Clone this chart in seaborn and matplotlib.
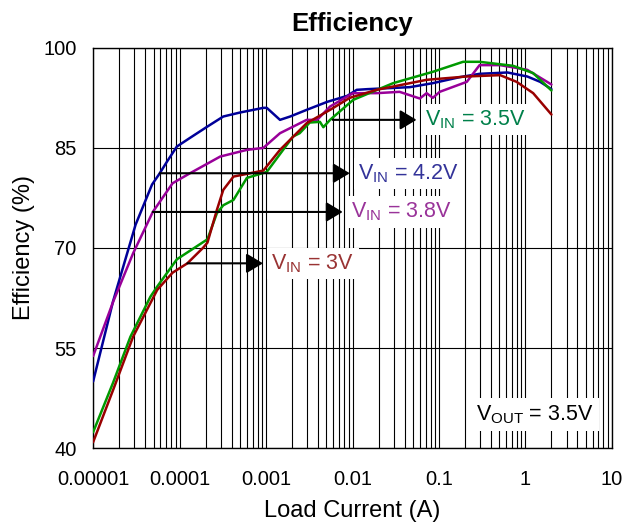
import numpy as np
import pandas as pd
import matplotlib
matplotlib.use("Agg")
import matplotlib.pyplot as plt
import seaborn as sns

# Values (load current in A, efficiency in %)
cur_42 = [1e-5, 1.7e-5, 3.1e-5, 4.8e-5, 5.9e-5, 7.2e-5, 9.3e-5, 1.32e-4, 2.1e-4, 3.2e-4,
          5.0e-4, 9.3e-4, 1.02e-3, 1.45e-3, 1.9e-3, 2.95e-3, 5.1e-3, 8.7e-3, 0.0112, 0.0148,
          0.046, 0.085, 0.174, 0.295, 0.62, 1.05, 1.48, 2.0]
eff_42 = [50, 62, 73.5, 79.5, 81.2, 83, 85.2, 86.5, 88.2, 89.7,
          90.3, 91, 91, 89.2, 89.7, 90.7, 91.9, 92.8, 93.7, 93.8,
          94.1, 94.7, 95.6, 96.1, 96.3, 95.7, 94.9, 93.8]

cur_38 = [1e-5, 1.7e-5, 2.9e-5, 4.9e-5, 8.3e-5, 1.32e-4, 2.95e-4, 6.0e-4, 9.3e-4, 1.45e-3,
          2.95e-3, 3.9e-3, 5.5e-3, 8.7e-3, 0.0102, 0.019, 0.035, 0.06, 0.072, 0.085,
          0.102, 0.21, 0.295, 0.51, 1.05, 2.0]
eff_38 = [53.8, 61.9, 69.2, 75.4, 79.7, 81.2, 83.7, 84.7, 85, 87.2,
          89.2, 89.2, 91.2, 92.7, 93.2, 93.2, 93.4, 92.4, 93.2, 92.5,
          93.4, 94.9, 97.4, 97.4, 96.7, 94.5]

cur_35 = [1e-5, 1.7e-5, 2.7e-5, 4.6e-5, 5.5e-5, 9.3e-5, 2.1e-4, 2.7e-4, 3.2e-4, 4.2e-4,
          6.0e-4, 1.02e-3, 2.05e-3, 2.45e-3, 3.2e-3, 4.2e-3, 4.6e-3, 5.5e-3, 0.0102, 0.0295,
          0.085, 0.19, 0.295, 0.72, 1.23, 2.0]
eff_35 = [42.4, 49.8, 56.7, 62.7, 64.2, 68.3, 71.3, 75.2, 76.4, 77.2,
          80.5, 81.4, 86.7, 87.2, 88.8, 88.9, 88.1, 89.2, 92.2, 94.7,
          96.4, 97.9, 97.9, 97.3, 96.2, 93.6]

cur_30 = [1e-5, 1.7e-5, 2.9e-5, 5.5e-5, 8.3e-5, 1.23e-4, 1.86e-4, 2.1e-4, 2.7e-4, 3.2e-4,
          4.2e-4, 9.3e-4, 1.45e-3, 2.95e-3, 5.5e-3, 9.3e-3, 0.019, 0.072, 0.21, 0.51,
          0.79, 1.23, 2.0]
eff_30 = [40.9, 48.7, 56.7, 63.7, 66.3, 67.7, 70, 70.8, 75.7, 78.7,
          80.7, 81.6, 84.7, 88.7, 90.7, 92.5, 93.7, 95.2, 95.7, 95.9,
          94.9, 93.2, 90]

series_names = ["4.2V", "3.8V", "3.5V", "3V"]
line_colors = ["#000099", "#990099", "#009900", "#990000"]
text_colors = ["#333399", "#993399", "#00804a", "#993333"]

# arrow annotations: (start current, efficiency, arrow end current)
arrow_start = [5.9e-5, 4.9e-5, 5.9e-3, 1.23e-4]
arrow_y = [81.2, 75.4, 89.2, 67.7]
arrow_end = [0.0093, 0.0077, 0.055, 0.00092]

y_ticks = [40, 55, 70, 85, 100]
x_ticks = [1e-5, 1e-4, 1e-3, 1e-2, 1e-1, 1, 10]
x_labels = ["0.00001", "0.0001", "0.001", "0.01", "0.1", "1", "10"]

frames = []
for name, c, e in zip(series_names, [cur_42, cur_38, cur_35, cur_30],
                      [eff_42, eff_38, eff_35, eff_30]):
    frames.append(pd.DataFrame({"current": c, "eff": e, "vin": name}))
df = pd.concat(frames, ignore_index=True)

sns.set_style("white")
plt.rcParams['font.family'] = ['Liberation Sans', 'DejaVu Sans']
plt.rcParams['mathtext.default'] = 'regular'
plt.rcParams['text.color'] = 'black'
plt.rcParams['axes.labelcolor'] = 'black'
plt.rcParams['xtick.color'] = 'black'
plt.rcParams['ytick.color'] = 'black'

fig = plt.figure(figsize=(6.25, 5.31), dpi=100)
ax = fig.add_axes([0.149, 0.156, 0.83, 0.754])

sns.lineplot(data=df, x="current", y="eff", hue="vin", hue_order=series_names,
             palette=line_colors, linewidth=1.8, legend=False, ax=ax, sort=False,
             estimator=None, zorder=3)

ax.set_xscale("log")
ax.set_xlim(1e-5, 10)
ax.set_ylim(40, 100)
ax.set_xticks(x_ticks)
ax.set_xticklabels(x_labels)
ax.set_yticks(y_ticks)
ax.xaxis.set_minor_locator(matplotlib.ticker.LogLocator(base=10, subs=np.arange(2, 10)))
ax.xaxis.set_minor_formatter(matplotlib.ticker.NullFormatter())
ax.grid(True, which="both", axis="x", color="black", linewidth=0.8)
ax.grid(True, which="major", axis="y", color="black", linewidth=0.8)
ax.tick_params(axis="both", which="both", length=0, labelsize=14.5)
ax.tick_params(axis="x", pad=16)
ax.tick_params(axis="y", pad=12)
for s in ax.spines.values():
    s.set_color("black")
    s.set_linewidth(1.0)

ax.set_title("Efficiency", fontsize=18.5, fontweight="bold", pad=12)
ax.set_xlabel("Load Current (A)", fontsize=17, labelpad=8)
ax.set_ylabel("Efficiency (%)", fontsize=17, labelpad=6)

for name, tc, x0, y0, x1 in zip(series_names, text_colors, arrow_start, arrow_y, arrow_end):
    ax.annotate("", xy=(x1, y0), xytext=(x0, y0),
                arrowprops=dict(arrowstyle="-|>,head_length=0.5,head_width=0.3",
                                color="black", lw=1.5,
                                mutation_scale=20, shrinkA=0, shrinkB=0), zorder=4)
    ax.text(x1 * 1.25, y0, "V$_{IN}$ = " + name, color=tc, fontsize=15.5,
            va="center", ha="left", zorder=5,
            bbox=dict(boxstyle="square,pad=0.2", facecolor="white", edgecolor="none"))

ax.text(0.27, 45, "V$_{OUT}$ = 3.5V", color="black", fontsize=15.5, va="center",
        ha="left", zorder=5,
        bbox=dict(boxstyle="square,pad=0.25", facecolor="white", edgecolor="none"))

fig.savefig("out.png", dpi=100)
